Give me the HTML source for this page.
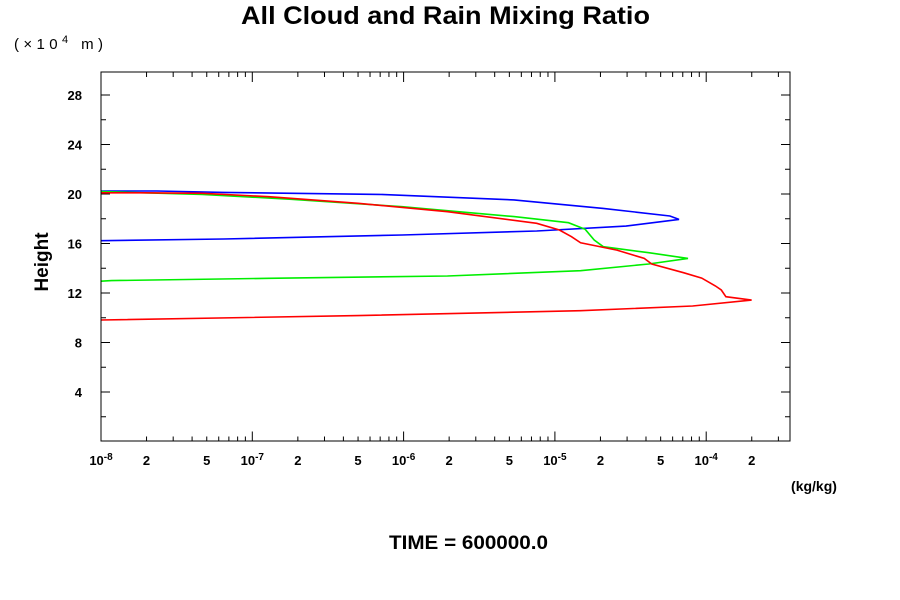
<!DOCTYPE html>
<html><head><meta charset="utf-8"><style>
body{margin:0;background:#fff}
svg{display:block;font-family:"Liberation Sans",sans-serif}
</style></head><body>
<svg id="chart" width="900" height="600" viewBox="0 0 900 600">
<rect width="900" height="600" fill="#fff"/>
<text x="241" y="24" font-size="25" font-weight="bold" textLength="409" lengthAdjust="spacingAndGlyphs">All Cloud and Rain Mixing Ratio</text>
<text x="14" y="49" font-size="15" textLength="89" lengthAdjust="spacing">(×10<tspan dy="-6" font-size="11">4</tspan><tspan dy="6">  m)</tspan></text>
<text transform="translate(48,262) rotate(-90)" font-size="19" font-weight="bold" text-anchor="middle">Height</text>
<text x="814" y="491" font-size="14" font-weight="bold" text-anchor="middle">(kg/kg)</text>
<text x="389" y="549" font-size="19" font-weight="bold" textLength="159" lengthAdjust="spacingAndGlyphs">TIME = 600000.0</text>
<g id="axes"></g>
<g id="series"></g>
<rect x="101" y="72" width="689" height="369" fill="none" stroke="#000" stroke-width="1"/>
</svg>
<script>
const redLogQ=[-8,-6.30,-4.83,-4.09,-3.70,-3.87,-3.90,-3.94,-4.03,-4.15,-4.36,-4.41,-4.59,-4.83,-4.89,-4.97,-5.12,-5.71,-6.30,-6.89,-7.33,-7.72,-8];
const redH=[9.82,10.17,10.57,10.95,11.43,11.7,12.24,12.57,13.2,13.64,14.34,14.8,15.47,16.06,16.55,17.09,17.63,18.57,19.25,19.78,20.06,20.1,20.1];
const greenLogQ=[-8,-7.93,-6.89,-5.71,-4.83,-4.38,-4.12,-4.38,-4.68,-4.74,-4.80,-4.91,-5.27,-6.01,-6.74,-7.33,-8];
const greenH=[12.95,13.0,13.19,13.37,13.8,14.34,14.8,15.26,15.74,16.28,17.15,17.68,18.17,18.97,19.57,19.97,20.19];
const blueLogQ=[-8,-7.19,-6.01,-5.12,-4.53,-4.18,-4.24,-4.68,-5.27,-6.16,-7.19,-7.63,-8];
const blueH=[16.23,16.36,16.69,17.01,17.41,17.95,18.22,18.84,19.52,19.97,20.13,20.24,20.24];
const yTicks=[4,8,12,16,20,24,28];
const xDecades=[-8,-7,-6,-5,-4];
const NS="http://www.w3.org/2000/svg";
const X0=101,X1=790,Y0=441.5,Y1=72;
const xPerDec=151.3,yPerUnit=12.375;
function xs(lq){return X0+(lq+8)*xPerDec;}
function ys(h){return Y0-h*yPerUnit;}
const axes=document.getElementById('axes');
const ser=document.getElementById('series');
function mk(tag,attrs,parent){const e=document.createElementNS(NS,tag);for(const k in attrs)e.setAttribute(k,attrs[k]);parent.appendChild(e);return e;}
for(let v=2;v<30;v+=2){
  const major=v%4===0;const L=major?9:5;const y=ys(v);
  const t=mk('path',{d:`M${X0},${y}h${L}M${X1},${y}h${-L}`,stroke:'#000'},axes);
  
  
}
yTicks.forEach(v=>{
  const t=mk('text',{x:82,y:ys(v)+5,'font-size':13,'font-weight':'bold','text-anchor':'end'},axes);
  t.textContent=v;
  
  
});
for(let d=-8;d<=-4;d++){
  for(let m=1;m<=9;m++){
    const x=xs(d+Math.log10(m));if(x>X1)continue;
    const L=m===1?10:5;
    const t=mk('path',{d:`M${x},${Y0}v${-L}M${x},${Y1}v${L}`,stroke:'#000'},axes);
    
    
  }
}
xDecades.forEach(d=>{
  const t=mk('text',{x:xs(d),y:465,'font-size':13,'font-weight':'bold','text-anchor':'middle'},axes);
  t.innerHTML=`10<tspan dy="-5" font-size="10">${d}</tspan>`;
  
  
  [2,5].forEach(m=>{
    const x=xs(d+Math.log10(m));if(x>X1)return;
    const u=mk('text',{x:x,y:465,'font-size':13,'font-weight':'bold','text-anchor':'middle'},axes);
    u.textContent=m;
    
    
  });
});
function line(lq,h,color,name){
  const pts=lq.map((q,i)=>xs(q).toFixed(1)+','+ys(h[i]).toFixed(1)).join(' ');
  const p=mk('polyline',{points:pts,fill:'none',stroke:color,'stroke-width':1.6},ser);
  
  
}
line(blueLogQ,blueH,'#0000ff','blue-series');
line(greenLogQ,greenH,'#00ee00','green-series');
line(redLogQ,redH,'#ff0000','red-series');
</script>
</body></html>
